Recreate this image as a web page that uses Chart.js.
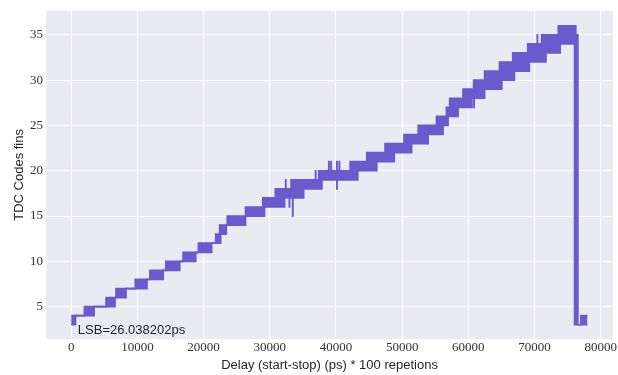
<!DOCTYPE html>
<html>
<head>
<meta charset="utf-8">
<script src="https://cdn.jsdelivr.net/npm/chart.js@4/dist/chart.umd.min.js"></script>
<style>
html,body{margin:0;padding:0;background:#ffffff;}
#wrap{width:618px;height:375px;position:relative;}
</style>
</head>
<body>
<div id="wrap"><canvas id="c" width="618" height="375"></canvas></div>
<script>
// ---- Data (delay in ps, TDC fine codes) ----
// Each block: region where the code toggles between blockLow and blockHigh
const blockStart = [0, 2000, 5270, 6770, 9680, 11890, 14300, 16900, 19220, 21830, 22430, 23580, 26340, 28950, 31110, 33220, 37400, 42150, 44660, 47420, 50280, 52430, 55190, 56690, 57190, 59200, 60800, 62460, 64710, 66970, 68970, 71080, 73880, 76050, 77000];
const blockEnd   = [650, 3460, 6620, 8280, 11450, 13900, 16400, 18820, 21220, 22580, 23430, 26340, 29200, 31960, 35120, 37880, 43300, 46170, 48820, 51430, 53930, 56190, 56940, 58450, 60550, 62460, 65060, 66970, 69220, 71730, 73880, 76390, 76240, 76550, 78000];
const blockLow   = [3, 4, 5, 6, 7, 8, 9, 10, 11, 12, 13, 14, 15, 16, 17, 18, 19, 20, 21, 22, 23, 24, 25, 26, 27, 28, 29, 30, 31, 32, 33, 34, 35, 3, 3];
const blockHigh  = [4, 5, 6, 7, 8, 9, 10, 11, 12, 13, 14, 15, 16, 17, 18, 19, 20, 21, 22, 23, 24, 25, 26, 27, 28, 29, 30, 31, 32, 33, 34, 35, 36, 35, 4];
// Isolated glitches (single-sample excursions)
const spikeX    = [30850, 32200, 32400, 32960, 33460, 36920, 38920, 39250, 40130, 40500, 60850, 66720, 70420, 73600, 73780];
const spikeLow  = [16, 16, 17, 16, 15, 18, 19, 19, 18, 19, 27, 31, 33, 34, 34];
const spikeHigh = [18, 18, 19, 18, 19, 20, 21, 21, 21, 21, 29, 33, 35, 36, 36];

const xTicks = [0, 10000, 20000, 30000, 40000, 50000, 60000, 70000, 80000];
const yTicks = [5, 10, 15, 20, 25, 30, 35];
const xLabel = 'Delay (start-stop) (ps) * 100 repetions';
const yLabel = 'TDC Codes fins';
const annText = 'LSB=26.038202ps';
const annX = 1000, annY = 2;

// ---- Build upper / lower envelopes of the toggling code ----
const SPIKE_W = 40;
const segs = [];
for (let i = 0; i < blockStart.length; i++) segs.push({a: blockStart[i], b: blockEnd[i], lo: blockLow[i], hi: blockHigh[i], real: true});
for (let j = 0; j < spikeX.length; j++) segs.push({a: spikeX[j], b: spikeX[j] + SPIKE_W, lo: spikeLow[j], hi: spikeHigh[j], real: false});
const edges = [...new Set(segs.flatMap(s => [s.a, s.b]))].sort((p, q) => p - q);
const upper = [], lower = [];
for (let i = 0; i < edges.length - 1; i++) {
  const a = edges[i], b = edges[i + 1], m = (a + b) / 2;
  const cov = segs.filter(s => s.a < m && s.b > m);
  let lo, hi;
  if (cov.length) {
    lo = Math.min(...cov.map(s => s.lo));
    hi = Math.max(...cov.map(s => s.hi));
  } else {
    const nx = segs.filter(s => s.real && s.a >= b).sort((p, q) => p.a - q.a)[0];
    lo = hi = nx.lo;
  }
  upper.push({x: a, y: hi});
  lower.push({x: a, y: lo});
}
const lastX = edges[edges.length - 1];
upper.push({x: lastX, y: upper[upper.length - 1].y});
lower.push({x: lastX, y: lower[lower.length - 1].y});

const LINE = '#6A5ACD';
const SANS = '"Liberation Sans", Arial, sans-serif';
const SERIF = '"Liberation Serif", "Times New Roman", serif';

const bgPlugin = {
  id: 'bg',
  beforeDraw(chart) {
    const {ctx, chartArea: ca} = chart;
    ctx.save();
    ctx.fillStyle = '#ffffff';
    ctx.fillRect(0, 0, chart.width, chart.height);
    ctx.fillStyle = '#EAEAF2';
    ctx.fillRect(ca.left, ca.top, ca.right - ca.left, ca.bottom - ca.top);
    ctx.restore();
  }
};
const annPlugin = {
  id: 'ann',
  afterDatasetsDraw(chart) {
    const {ctx, scales: {x, y}} = chart;
    ctx.save();
    ctx.font = '13px ' + SANS;
    ctx.fillStyle = '#262626';
    ctx.textAlign = 'left';
    ctx.textBaseline = 'alphabetic';
    ctx.fillText(annText, x.getPixelForValue(annX), y.getPixelForValue(annY));
    ctx.restore();
  }
};

new Chart(document.getElementById('c'), {
  type: 'line',
  data: {
    datasets: [
      {data: lower, borderColor: LINE, backgroundColor: LINE, borderWidth: 1.7, pointRadius: 0, stepped: true, fill: false},
      {data: upper, borderColor: LINE, backgroundColor: LINE, borderWidth: 1.7, pointRadius: 0, stepped: true, fill: '-1'}
    ]
  },
  options: {
    responsive: false,
    devicePixelRatio: 1,
    animation: false,
    layout: {padding: {top: 8, right: 3, left: 0, bottom: 0}},
    plugins: {legend: {display: false}, tooltip: {enabled: false}},
    scales: {
      x: {
        type: 'linear', min: -3807, max: 81866,
        afterBuildTicks: s => { s.ticks = xTicks.map(v => ({value: v})); },
        afterFit: s => { s.height = 36; },
        grid: {color: '#ffffff', lineWidth: 1, drawTicks: false},
        border: {display: false},
        ticks: {padding: 1, maxRotation: 0, autoSkip: false, color: '#333333', font: {family: SERIF, size: 13}, callback: v => String(v)},
        title: {display: true, text: xLabel, color: '#262626', font: {family: SANS, size: 13}, padding: {top: 0, bottom: 2}}
      },
      y: {
        type: 'linear', min: 1.43, max: 37.65,
        afterBuildTicks: s => { s.ticks = yTicks.map(v => ({value: v})); },
        afterFit: s => { s.width = 46; },
        grid: {color: '#ffffff', lineWidth: 1, drawTicks: false},
        border: {display: false},
        ticks: {padding: 3, color: '#333333', font: {family: SERIF, size: 13}, callback: v => String(v)},
        title: {display: true, text: yLabel, color: '#262626', font: {family: SANS, size: 13}, padding: {top: 12, bottom: 0}}
      }
    }
  },
  plugins: [bgPlugin, annPlugin]
});
</script>
</body>
</html>
